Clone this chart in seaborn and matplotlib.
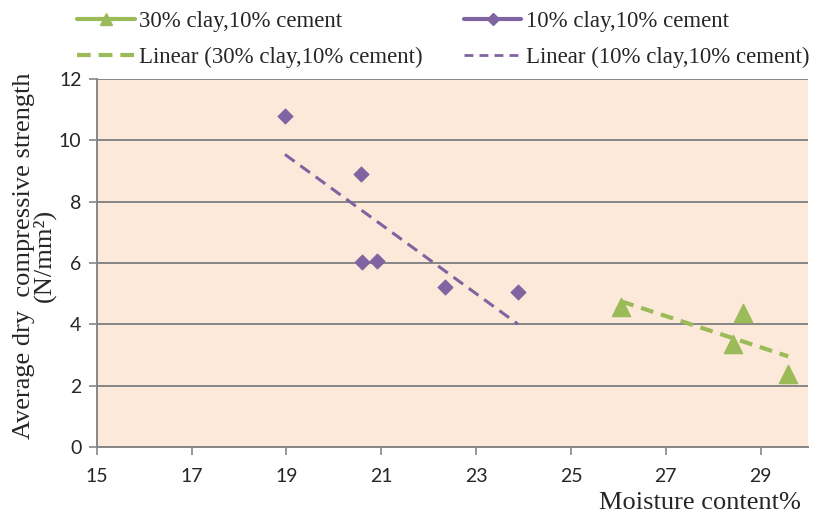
import numpy as np
import pandas as pd
import matplotlib
matplotlib.use("Agg")
import matplotlib.pyplot as plt
import seaborn as sns
from matplotlib.lines import Line2D

# Data
moisture_30 = [26.06, 28.63, 28.42, 29.58]
strength_30 = [4.56, 4.38, 3.37, 2.40]
moisture_10 = [18.97, 20.57, 20.60, 20.91, 22.35, 23.88]
strength_10 = [10.8, 8.9, 6.05, 6.08, 5.21, 5.05]

label_30 = "30% clay,10% cement"
label_10 = "10% clay,10% cement"
x_ticks = [15, 17, 19, 21, 23, 25, 27, 29]
y_ticks = [0, 2, 4, 6, 8, 10, 12]

green = "#9BBB59"
purple = "#8064A2"
bg = "#FDE9D9"
grid_c = "#868686"

sns.set_theme(style="white")
plt.rcParams["font.family"] = ["Lato", "DejaVu Sans"]
serif = ["Liberation Serif", "DejaVu Serif"]

df30 = pd.DataFrame({"x": moisture_30, "y": strength_30})
df10 = pd.DataFrame({"x": moisture_10, "y": strength_10})

fig = plt.figure(figsize=(8.13, 5.2), dpi=100)
ax = fig.add_axes([0.119, 0.140, 0.875, 0.708])
ax.set_facecolor(bg)

# trend lines (least squares, like the Excel trendline)
sns.regplot(data=df10, x="x", y="y", scatter=False, ci=None, ax=ax,
            line_kws=dict(color=purple, ls=(0, (3.9, 2.3)), lw=2.2))
sns.regplot(data=df30, x="x", y="y", scatter=False, ci=None, ax=ax,
            line_kws=dict(color=green, ls=(0, (3.1, 1.9)), lw=3))

# points
sns.scatterplot(data=df10, x="x", y="y", marker="D", s=60, color=purple,
                edgecolor=purple, ax=ax, zorder=4)
sns.scatterplot(data=df30, x="x", y="y", marker="^", s=170, color=green,
                edgecolor=green, ax=ax, zorder=4)

ax.set_xlim(15, 30)
ax.set_ylim(0, 12)
ax.set_xticks(x_ticks)
ax.set_yticks(y_ticks)
ax.tick_params(axis="both", labelsize=14, length=6, width=1.2, color=grid_c,
               direction="out", bottom=True, left=True)
ax.tick_params(axis="x", pad=9)
ax.tick_params(axis="y", pad=5)
ax.yaxis.grid(True, color=grid_c, lw=1.4)
ax.xaxis.grid(False)
for side in ["top", "right"]:
    ax.spines[side].set_visible(False)
for side in ["left", "bottom"]:
    ax.spines[side].set_color(grid_c)
    ax.spines[side].set_linewidth(1.4)
ax.set_axisbelow(True)

ax.set_xlabel("Moisture content%", family=serif, fontsize=19)
ax.xaxis.set_label_coords(0.99, -0.152)
ax.xaxis.label.set_ha("right")
ax.xaxis.label.set_va("center")
ax.set_ylabel("Average dry  compressive strength\n(N/mm\u00b2)", family=serif,
              fontsize=19, linespacing=0.85)
ax.yaxis.set_label_coords(-0.058, 0.52)

handles = [
    Line2D([], [], color=green, lw=3, marker="^", markersize=8),
    Line2D([], [], color=green, lw=3, ls=(0, (3.3, 1.9))),
    Line2D([], [], color=purple, lw=3, marker="D", markersize=6),
    Line2D([], [], color=purple, lw=2, ls=(0, (3.2, 2.2))),
]
labels = [label_30, "Linear (" + label_30 + ")", label_10, "Linear (" + label_10 + ")"]
fig.legend(handles, labels, ncol=2, loc="upper left", bbox_to_anchor=(0.095, 0.978),
           frameon=False, prop=dict(family=serif, size=16.5), handlelength=2.5,
           handletextpad=0.2, columnspacing=1.8, labelspacing=0.62,
           borderpad=0, borderaxespad=0)

fig.savefig("out.png", dpi=100)
